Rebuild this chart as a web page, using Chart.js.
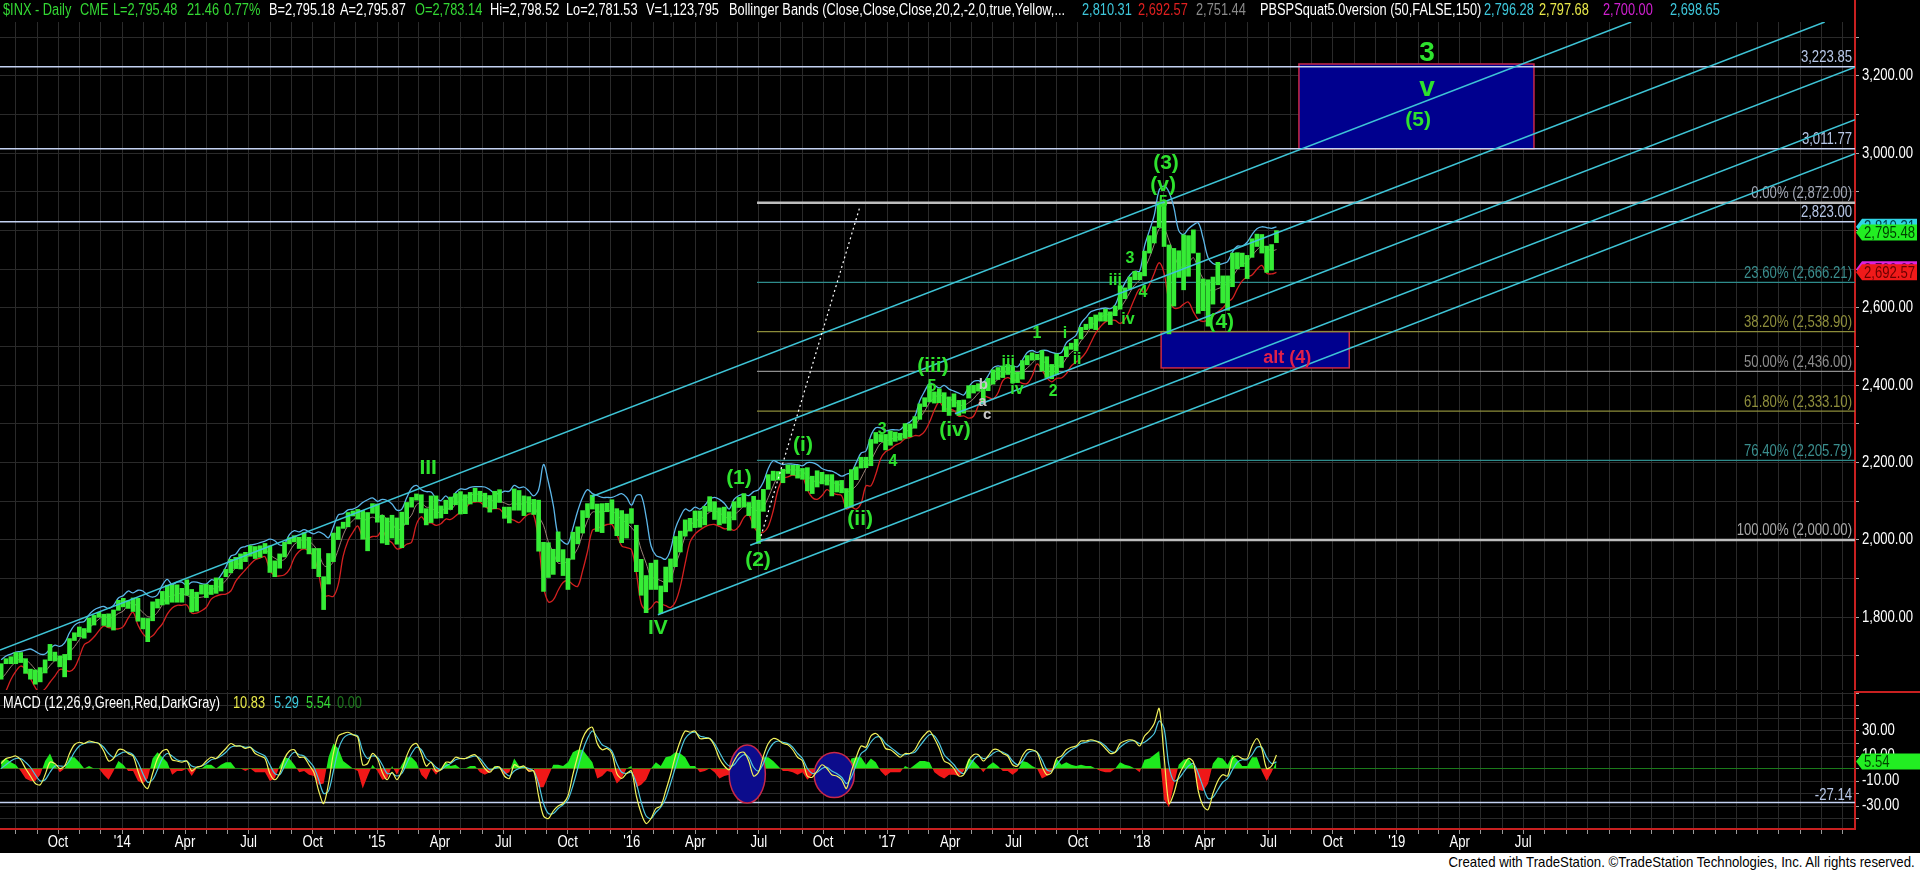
<!DOCTYPE html>
<html>
<head>
<meta charset="utf-8">
<script src="https://cdn.jsdelivr.net/npm/chart.js@4.4.1/dist/chart.umd.min.js"></script>
<style>
html, body { margin: 0; padding: 0; background: #000; width: 1920px; height: 870px; overflow: hidden; }
canvas { position: absolute; left: 0; }
#price { top: 0; }
#macd { top: 690px; }
.row { position: absolute; left: 0; width: 1850px; height: 18px; z-index: 2; }
#hdr { top: 1px; }
#mhdr { top: 694px; }
.row span { position: absolute; top: 0; white-space: pre; font: 16px 'Liberation Sans', Arial, sans-serif; line-height: 18px;
            color: #fff; transform: scaleX(0.8); transform-origin: 0 0; }
#foot { position: absolute; left: 0; top: 853px; width: 1920px; height: 17px; background: #fff; }
#foot span { position: absolute; right: 5px; top: 0; white-space: pre; color: #000; font: 15px 'Liberation Sans', Arial, sans-serif; line-height: 17px;
             transform: scaleX(0.88); transform-origin: 100% 0; }
.row .g { color: #34d834; } .row .c { color: #3ec8dc; } .row .r { color: #e02020; } .row .gy { color: #8a8a8a; }
.row .y { color: #e8e84a; } .row .m { color: #d020d0; } .row .dg { color: #1e7a1e; }
</style>
</head>
<body>
<canvas id="price" width="1920" height="690"></canvas>
<canvas id="macd" width="1920" height="163"></canvas>
<div id="hdr" class="row">
  <span class="g" style="left:3px">$INX - Daily</span>
  <span class="g" style="left:80px">CME</span>
  <span class="g" style="left:113px">L=2,795.48</span>
  <span class="g" style="left:187px">21.46</span>
  <span class="g" style="left:224px">0.77%</span>
  <span style="left:269px">B=2,795.18</span>
  <span style="left:340px">A=2,795.87</span>
  <span class="g" style="left:415px">O=2,783.14</span>
  <span style="left:490px">Hi=2,798.52</span>
  <span style="left:566px">Lo=2,781.53</span>
  <span style="left:646px">V=1,123,795</span>
  <span style="left:729px">Bollinger Bands (Close,Close,Close,20,2,-2,0,true,Yellow,...</span>
  <span class="c" style="left:1082px">2,810.31</span>
  <span class="r" style="left:1138px">2,692.57</span>
  <span class="gy" style="left:1196px">2,751.44</span>
  <span style="left:1260px">PBSPSquat5.0version (50,FALSE,150)</span>
  <span class="c" style="left:1484px">2,796.28</span>
  <span class="y" style="left:1539px">2,797.68</span>
  <span class="m" style="left:1603px">2,700.00</span>
  <span class="c" style="left:1670px">2,698.65</span>
</div>
<div id="mhdr" class="row">
  <span style="left:3px">MACD (12,26,9,Green,Red,DarkGray)</span>
  <span class="y" style="left:233px">10.83</span>
  <span class="c" style="left:274px">5.29</span>
  <span class="g" style="left:306px">5.54</span>
  <span class="dg" style="left:337px">0.00</span>
</div>
<div id="foot"><span>Created with TradeStation. ©TradeStation Technologies, Inc. All rights reserved.</span></div>
<script>
// 주간 데이터 (2013-07-08 주 ~ 2018-07-09 주)
const weekLow = [
  1640,1680,1680,1680,1683,1655,1640,1627,1633,1656,1688,1687,1672,1646,1690,1740,1750,1746,1761,1780,1800,1779,1775,1767,1818,1827,
  1823,1815,1790,1770,1737,1791,1824,1832,1834,1839,1839,1839,1857,1814,1816,1860,1851,1859,1862,1868,1905,1915,1926,1925,1944,1958,1952,1955,1965,1916,1905,1927,1956,1990,1995,1978,1978,1964,1926,1905,1820,1886,1944,2001,2030,2034,2062,2054,2002,1972,2069,2046,
  1992,1988,2005,1989,1980,2040,2085,2103,2070,2039,2045,2056,2057,2068,2079,2091,2067,2068,2093,2099,2099,2085,2072,2081,2097,2056,2044,2077,2077,2063,2072,2066,1971,1867,1903,1911,1944,1908,1872,1950,1990,2018,2058,2080,2022,2019,2073,2042,2011,1993,2005,2043,
  1918,1857,1812,1872,1872,1810,1866,1891,1931,1969,2010,2023,2032,2033,2039,2074,2053,2039,2043,2025,2052,2084,2085,2063,2031,1991,2074,2131,2154,2155,2148,2172,2168,2160,2157,2127,2120,2137,2145,2142,2114,2124,2122,2084,2085,2156,2186,2187,2192,2250,2254,2233,
  2245,2255,2258,2263,2267,2289,2312,2345,2357,2354,2355,2332,2322,2344,2322,2328,2367,2380,2385,2353,2386,2403,2415,2420,2428,2406,2407,2416,2453,2465,2466,2437,2420,2417,2428,2446,2474,2493,2489,2520,2544,2547,2544,2566,2566,2557,2580,2597,2624,2650,2673,2673,
  2683,2742,2768,2808,2759,2533,2605,2679,2647,2682,2742,2586,2593,2553,2610,2660,2613,2594,2655,2701,2707,2676,2731,2759,2742,2692,2698,2769
];
const weekHigh = [
  1680,1693,1698,1709,1709,1693,1666,1664,1670,1690,1730,1710,1700,1704,1745,1760,1775,1771,1798,1805,1813,1808,1809,1819,1844,1849,
  1843,1850,1849,1798,1797,1840,1847,1867,1883,1883,1884,1875,1897,1872,1865,1884,1885,1883,1902,1901,1924,1950,1955,1964,1968,1985,1983,1985,1991,1985,1946,1964,1994,2006,2011,2007,2019,2007,1978,1978,1905,1965,2018,2034,2046,2071,2075,2079,2076,2071,2094,2093,
  2064,2057,2064,2057,2072,2097,2110,2119,2117,2081,2114,2114,2088,2103,2111,2120,2125,2117,2123,2134,2126,2121,2115,2126,2130,2085,2085,2132,2128,2114,2112,2105,2103,1994,1993,1976,2021,1975,1952,2020,2034,2076,2094,2116,2093,2094,2095,2104,2081,2076,2067,2081,
  2038,1950,1908,1940,1948,1881,1930,1951,2009,2023,2052,2056,2075,2075,2087,2112,2099,2083,2085,2073,2099,2110,2120,2097,2113,2103,2131,2169,2178,2177,2183,2194,2193,2193,2185,2187,2165,2179,2175,2169,2169,2153,2154,2133,2182,2189,2214,2214,2260,2278,2273,2273,
  2282,2279,2276,2301,2300,2319,2352,2368,2401,2383,2391,2381,2370,2378,2361,2362,2399,2400,2404,2405,2418,2440,2446,2450,2454,2450,2434,2464,2477,2484,2480,2490,2474,2454,2481,2475,2500,2509,2519,2550,2558,2576,2582,2588,2597,2590,2605,2658,2652,2680,2695,2692,
  2747,2787,2810,2873,2870,2763,2754,2748,2789,2787,2802,2742,2675,2673,2680,2718,2683,2683,2742,2743,2742,2736,2779,2791,2790,2760,2764,2800
];
// 볼린저 밴드
const bbUpper = [
  1690,1700,1705,1710,1712,1715,1718,1712,1705,1705,1718,1728,1725,1734,1760,1779,1787,1789,1807,1819,1825,1828,1823,1831,1850,1856,
  1868,1863,1870,1868,1857,1852,1858,1883,1898,1884,1891,1891,1882,1891,1891,1887,1886,1897,1895,1909,1930,1958,1963,1979,1983,1987,1989,1993,1997,2002,1998,1987,1990,2014,2024,2021,2027,2021,2016,2021,2015,2006,2034,2065,2068,2078,2080,2086,2097,2104,2109,2100,
  2105,2102,2093,2077,2080,2109,2134,2141,2130,2125,2124,2108,2102,2114,2103,2122,2132,2131,2136,2138,2138,2137,2130,2121,2120,2126,2126,2141,2135,2137,2127,2114,2130,2195,2150,2090,2010,1995,1990,2030,2075,2110,2130,2120,2115,2110,2110,2110,2115,2120,2110,2090,
  2115,2115,2060,1985,1960,1955,1950,1975,2030,2060,2080,2075,2085,2080,2090,2105,2110,2105,2095,2080,2105,2115,2118,2115,2125,2130,2150,2185,2205,2200,2195,2197,2196,2195,2192,2200,2200,2195,2185,2180,2178,2172,2165,2170,2175,2200,2225,2230,2270,2290,2290,2282,
  2285,2285,2285,2298,2305,2320,2360,2385,2405,2400,2393,2400,2390,2385,2380,2375,2395,2410,2412,2408,2425,2445,2450,2448,2450,2450,2448,2465,2485,2490,2485,2490,2490,2485,2482,2485,2510,2520,2530,2560,2575,2590,2595,2598,2600,2598,2608,2640,2665,2685,2695,2695,
  2760,2800,2840,2905,2915,2900,2860,2800,2790,2805,2815,2820,2780,2730,2715,2712,2715,2720,2745,2760,2760,2770,2790,2805,2810,2808,2806,2810
];
const bbMid = [
  1640,1655,1672,1685,1693,1690,1680,1665,1655,1660,1675,1688,1695,1699,1710,1724,1742,1759,1772,1784,1795,1803,1798,1801,1810,1816,
  1833,1838,1825,1813,1802,1802,1813,1833,1853,1854,1861,1861,1857,1851,1851,1852,1856,1872,1875,1884,1895,1913,1928,1944,1953,1962,1969,1973,1977,1962,1953,1947,1950,1969,1989,1996,2002,1996,1986,1966,1935,1931,1944,1975,2013,2038,2050,2061,2052,2054,2059,2055,
  2065,2052,2043,2027,2030,2049,2064,2091,2095,2085,2084,2073,2072,2084,2078,2092,2102,2106,2116,2118,2118,2112,2105,2101,2100,2096,2091,2096,2090,2097,2097,2089,2062,2038,1995,1968,1940,1942,1943,1958,1978,2015,2050,2072,2072,2073,2075,2075,2065,2052,2045,2032,
  2015,1975,1940,1905,1900,1895,1890,1900,1935,1970,2010,2035,2050,2053,2062,2072,2075,2070,2062,2055,2065,2075,2088,2090,2080,2075,2085,2110,2140,2165,2177,2180,2182,2180,2178,2165,2155,2150,2150,2155,2150,2145,2140,2125,2130,2140,2160,2185,2205,2230,2250,2255,
  2260,2265,2268,2280,2285,2295,2315,2333,2355,2368,2375,2370,2364,2360,2350,2348,2355,2365,2380,2390,2397,2405,2415,2430,2435,2432,2430,2435,2445,2457,2470,2465,2455,2447,2450,2452,2470,2485,2495,2515,2530,2550,2565,2575,2582,2583,2588,2600,2618,2640,2660,2672,
  2700,2730,2765,2805,2805,2775,2740,2710,2705,2715,2730,2700,2675,2650,2645,2650,2655,2665,2680,2700,2712,2720,2735,2750,2760,2755,2748,2751
];
const bbLower = [
  1590,1610,1639,1660,1674,1665,1642,1618,1605,1615,1632,1648,1665,1664,1660,1669,1697,1729,1737,1749,1765,1778,1773,1771,1770,1776,
  1798,1813,1780,1758,1747,1752,1768,1783,1808,1824,1831,1831,1832,1811,1811,1817,1826,1847,1855,1859,1860,1868,1893,1909,1923,1937,1949,1953,1957,1922,1908,1907,1910,1924,1954,1971,1977,1971,1956,1911,1855,1856,1854,1885,1958,1998,2020,2036,2007,2004,2009,2010,
  2025,2002,1993,1977,1980,1989,1994,2041,2060,2045,2044,2038,2042,2054,2053,2062,2072,2081,2096,2098,2098,2087,2080,2081,2080,2066,2056,2051,2045,2057,2067,2064,1995,1880,1840,1845,1870,1890,1895,1885,1880,1920,1970,2025,2030,2035,2040,2040,2015,1985,1980,1975,
  1915,1835,1820,1825,1840,1835,1830,1825,1840,1880,1940,1995,2015,2026,2034,2039,2040,2035,2029,2030,2025,2035,2058,2065,2035,2020,2020,2035,2075,2130,2159,2163,2168,2165,2164,2130,2110,2105,2115,2130,2122,2118,2115,2080,2085,2080,2095,2140,2140,2170,2210,2228,
  2235,2245,2251,2262,2265,2270,2270,2281,2305,2336,2357,2340,2338,2335,2320,2321,2315,2320,2348,2372,2369,2365,2380,2412,2420,2414,2412,2405,2405,2424,2455,2440,2420,2409,2418,2419,2430,2450,2460,2470,2485,2510,2535,2552,2564,2568,2568,2560,2571,2595,2625,2649,
  2640,2660,2690,2717,2690,2620,2600,2600,2610,2615,2590,2570,2565,2570,2580,2590,2600,2615,2625,2650,2670,2680,2685,2700,2710,2690,2688,2692
];
// MACD (12,26,9)
const macdLine = [
  4,8,9,10,7,0,-6,-12,-13,-5,5,4,0,2,12,19,21,20,22,21,20,14,6,8,15,15,
  12,10,-2,-12,-16,-4,8,14,15,7,6,5,6,-2,1,2,6,9,8,12,16,20,18,18,16,17,12,10,8,-4,-9,-4,8,14,15,9,9,3,-3,-18,-28,-12,12,26,28,29,27,25,3,4,12,8,
  -3,-9,-3,-9,-2,10,18,20,12,2,5,-2,-1,5,5,9,8,8,10,11,6,0,-3,1,1,-6,-8,3,1,2,-2,-2,-22,-38,-40,-34,-30,-28,-22,-5,10,24,31,33,20,15,16,12,-4,-8,-4,-2,
  -22,-36,-44,-40,-32,-30,-18,-5,10,22,30,29,30,24,24,24,18,8,2,-1,6,12,13,6,-6,-3,10,20,24,23,20,19,15,9,6,-6,-7,-2,3,0,-5,-6,-9,-16,-2,9,18,17,26,28,24,16,
  15,12,9,12,12,15,22,27,30,24,16,6,4,0,-6,-5,6,11,11,6,10,15,15,12,10,3,2,10,15,15,13,2,-5,-3,8,10,15,17,18,22,22,23,22,20,16,12,13,20,22,23,22,18,
  26,30,36,48,10,-28,-20,-6,2,8,5,-18,-30,-33,-20,-10,-5,-6,8,10,8,8,18,24,16,0,2,10.83
];
const macdSignal = [
  0,3,6,8,8,5,1,-5,-10,-9,-3,2,2,2,6,13,18,20,21,21,20,17,12,9,11,13,
  13,11,5,-4,-11,-9,-1,8,12,10,7,6,6,2,1,2,4,7,8,10,13,17,18,18,17,17,14,12,10,3,-4,-5,2,9,13,11,10,6,1,-9,-20,-18,-2,15,24,27,27,26,14,8,10,9,
  3,-4,-4,-6,-4,4,12,17,15,8,5,1,-1,2,4,7,8,8,9,10,8,3,-1,0,1,-3,-6,-2,0,1,0,-2,-12,-28,-36,-36,-32,-29,-25,-14,0,14,24,30,25,19,17,14,4,-3,-4,-3,
  -12,-27,-38,-40,-35,-31,-24,-12,1,14,24,28,29,26,25,24,20,13,6,2,3,8,11,9,1,-2,4,14,20,22,21,20,17,12,8,0,-4,-3,0,1,-2,-4,-7,-12,-7,3,12,15,21,25,25,20,
  17,14,11,11,12,13,18,23,27,26,20,11,7,3,-2,-4,1,7,10,8,9,12,14,13,11,6,3,6,12,14,13,7,-1,-2,3,8,12,15,17,20,21,22,22,21,18,14,13,17,20,22,22,20,
  21,24,28,38,32,2,-10,-8,-3,2,4,-4,-15,-24,-23,-17,-11,-8,-1,5,7,7,11,17,17,9,4,5.29
];
const macdHist = [
  6,8,5,3,-2,-8,-10,-10,-5,6,12,3,-3,0,9,9,5,0,2,0,0,-5,-9,-2,6,3,
  -2,-2,-10,-12,-8,8,13,9,5,-5,-2,-2,0,-6,0,0,3,3,0,3,5,5,0,0,-2,0,-3,-3,-3,-10,-8,2,9,8,3,-3,-2,-5,-6,-13,-12,9,20,16,6,3,0,-2,-16,-6,3,-2,
  -9,-8,2,-5,3,9,9,5,-5,-9,0,-5,0,5,2,3,0,0,2,2,-3,-5,-3,2,0,-5,-3,8,2,2,-3,0,-15,-15,-6,3,3,2,5,13,15,15,10,5,-8,-6,-2,-3,-12,-8,0,2,
  -15,-13,-9,0,5,2,9,10,13,12,9,2,2,-3,-2,0,-3,-8,-6,-5,5,6,3,-5,-10,-2,9,9,6,2,-2,-2,-3,-5,-3,-9,-5,2,5,-2,-5,-3,-3,-6,8,9,9,3,8,5,-2,-6,
  -3,-3,-3,2,0,3,6,6,5,-3,-6,-8,-5,-5,-6,-2,8,6,2,-3,2,5,2,-2,-2,-5,-2,6,5,2,0,-8,-6,-2,8,3,5,3,2,3,2,2,0,-2,-3,-3,0,5,3,2,0,-3,
  7,8,11,14,-25,-31,-13,3,7,8,2,-17,-18,-12,4,9,8,3,11,7,2,2,9,9,-2,-10,-3,5.54
];

// 수평선 (피보나치 등)
const levelValues = [3223.85, 3011.77, 2872.00, 2823.00, 2666.21, 2538.90, 2436.00, 2333.10, 2205.79, 2000.00];
const levelLabels = ['3,223.85', '3,011.77', '0.00% (2,872.00)', '2,823.00', '23.60% (2,666.21)', '38.20% (2,538.90)',
                     '50.00% (2,436.00)', '61.80% (2,333.10)', '76.40% (2,205.79)', '100.00% (2,000.00)'];
const levelFrom = [0, 0, 155.2, 0, 155.2, 155.2, 155.2, 155.2, 155.2, 155.2];

// 채널 라인 (주, 가격)
const chanW0 = [0.27, 121.4, 195.7, 153.8, 134.9];
const chanP0 = [1715.5, 2112.5, 2326.4, 1986.3, 1806.8];
const chanW1 = [334.1, 373.7, 379.9, 379.9, 379.9];
const chanP1 = [3339.6, 3339.6, 3222.5, 3086.7, 2998.8];
const dotW = [156.0, 176.3];
const dotP = [2010, 2864];

// 박스
const boxW0 = [266.1, 237.9], boxW1 = [314.2, 276.4];
const boxP0 = [3011.77, 2445], boxP1 = [3231, 2538.9];

// 파동 라벨
const waveText  = ['3', 'v', '(5)', '(3)', '(v)', '5', '3', 'iii', '4', 'iv', '(4)', '(1)', '(2)', '(i)', '(ii)', '(iii)', '(iv)',
                   '3', '4', '5', 'a', 'b', 'c', 'iii', 'iv', '1', 'i', 'ii', '2', 'III', 'IV'];
const waveWeek  = [292.3, 292.3, 290.5, 238.9, 238.3, 238.3, 231.5, 228.5, 234.2, 231.1, 250.2, 151.5, 155.4, 164.6, 176.3, 191.2, 195.7,
                   180.8, 183.0, 191.0, 201.3, 201.5, 202.3, 206.6, 208.4, 212.5, 218.2, 220.7, 215.8, 87.9, 134.9];
const wavePrice = [3259, 3169, 3086, 2975, 2918, 2872, 2729, 2672, 2641, 2569, 2564, 2160, 1948, 2246, 2054, 2450, 2284,
                   2285, 2202, 2396, 2357, 2401, 2323, 2458, 2388, 2535, 2535, 2466, 2383, 2186, 1772];
const altLabel = 'alt (4)', altWeek = 263.7, altPrice = 2471;

// 오른쪽 가격 태그
const tagValues = [2810.31, 2795.48, 2700.00, 2692.57];
const macdTag = 5.54, macdLevel = -27.14;

// MACD 원
const ellW0 = [149.5, 166.9], ellW1 = [156.9, 175.1];
const ellV0 = [-27.6, -23.2], ellV1 = [18.8, 12.8];

const FONT = "'Liberation Sans', Arial, sans-serif";
const X_MIN = 0.27, X_MAX = 379.9;

// 월 눈금
const MON = ['Jan','Feb','Mar','Apr','May','Jun','Jul','Aug','Sep','Oct','Nov','Dec'];
const T0 = Date.UTC(2013, 6, 8);
const monthTicks = [];
for (let yr = 2013; yr <= 2020; yr++) {
  for (let m = 0; m < 12; m++) {
    const w = (Date.UTC(yr, m, 1) - T0) / 864e5 / 7;
    if (w < X_MIN || w > X_MAX) continue;
    let label = '';
    if (m % 3 === 0 && (yr < 2019 || (yr === 2019 && m <= 6))) label = m === 0 ? "'" + String(yr).slice(2) : MON[m];
    monthTicks.push({ w: w, label: label });
  }
}
const priceGrid = [];
for (let v = 1700; v <= 3300; v += 100) priceGrid.push(v);
const macdGrid = [];
for (let v = -40; v <= 60; v += 10) macdGrid.push(v);

const xs = weekLow.map((v, i) => i + 0.5);
const pts = arr => arr.map((v, i) => ({ x: xs[i], y: v }));
const fmt = v => v.toLocaleString('en-US', { minimumFractionDigits: 2, maximumFractionDigits: 2 });

// 좁은 글꼴 흉내 (가로 축소)
function narrowText(ctx, text, x, y, align, color, size) {
  ctx.save();
  ctx.translate(x, y);
  ctx.scale(0.82, 1);
  ctx.font = (size || 16) + 'px ' + FONT;
  ctx.fillStyle = color;
  ctx.textAlign = align;
  ctx.textBaseline = 'middle';
  ctx.fillText(text, 0, 0);
  ctx.restore();
}

function tag(ctx, x0, yp, w, text, bg, fg) {
  ctx.beginPath();
  ctx.moveTo(x0 + 1, yp);
  ctx.lineTo(x0 + 7, yp - 8);
  ctx.lineTo(x0 + w, yp - 8);
  ctx.lineTo(x0 + w, yp + 8);
  ctx.lineTo(x0 + 7, yp + 8);
  ctx.closePath();
  ctx.fillStyle = bg;
  ctx.fill();
  narrowText(ctx, text, x0 + 9, yp + 1, 'left', fg);
}

const levelColor = ['#c4d2f2', '#c4d2f2', '#bdbdbd', '#c4d2f2', '#2e8c8c', '#8c8c3a', '#8e8e8e', '#8c8c3a', '#2e8c8c', '#bdbdbd'];
const levelWidth = [1.5, 1.5, 2.5, 1.5, 1.2, 1.2, 1.2, 1.2, 1.2, 2.5];
const levelText  = ['#b6c6e6', '#b6c6e6', '#a2a8b6', '#b6c6e6', '#3a8e8e', '#8e8e3c', '#8e8e8e', '#8e8e3c', '#3a8e8e', '#a8a8a8'];
const waveKind = ['xl','xl','l','l','l','s','s','s','s','s','l','l','l','l','l','l','l','s','s','s','g','g','g','s','s','s','s','s','s','l','l'];
const waveFont = { xl: 28, l: 21, s: 16, g: 15 };

const priceDecor = {
  id: 'priceDecor',
  beforeDatasetsDraw(chart) {
    const { ctx, chartArea: a, scales: { x, y } } = chart;
    ctx.save();
    ctx.beginPath();
    ctx.rect(a.left, a.top, a.right - a.left, a.bottom - a.top);
    ctx.clip();
    // 박스
    for (let i = 0; i < boxW0.length; i++) {
      const x0 = x.getPixelForValue(boxW0[i]), x1 = x.getPixelForValue(boxW1[i]);
      const y0 = y.getPixelForValue(boxP1[i]), y1 = y.getPixelForValue(boxP0[i]);
      ctx.fillStyle = '#00008e';
      ctx.fillRect(x0, y0, x1 - x0, y1 - y0);
      ctx.strokeStyle = '#c8284a';
      ctx.lineWidth = 1.5;
      ctx.strokeRect(x0, y0, x1 - x0, y1 - y0);
    }
    // 수평선 + 라벨
    for (let i = 0; i < levelValues.length; i++) {
      const yp = y.getPixelForValue(levelValues[i]);
      const xs0 = levelFrom[i] ? x.getPixelForValue(levelFrom[i]) : a.left;
      ctx.strokeStyle = levelColor[i];
      ctx.lineWidth = levelWidth[i];
      ctx.beginPath();
      ctx.moveTo(xs0, yp);
      ctx.lineTo(a.right, yp);
      ctx.stroke();
      narrowText(ctx, levelLabels[i], a.right - 3, yp - 9, 'right', levelText[i]);
    }
    ctx.restore();
  },
  afterDatasetsDraw(chart) {
    const { ctx, chartArea: a, scales: { x, y } } = chart;
    ctx.save();
    ctx.beginPath();
    ctx.rect(a.left, a.top, a.right - a.left, a.bottom - a.top);
    ctx.clip();
    // 채널
    ctx.strokeStyle = '#3ec4d6';
    ctx.lineWidth = 1.5;
    for (let i = 0; i < chanW0.length; i++) {
      ctx.beginPath();
      ctx.moveTo(x.getPixelForValue(chanW0[i]), y.getPixelForValue(chanP0[i]));
      ctx.lineTo(x.getPixelForValue(chanW1[i]), y.getPixelForValue(chanP1[i]));
      ctx.stroke();
    }
    // 점선
    ctx.strokeStyle = '#ffffff';
    ctx.lineWidth = 1.2;
    ctx.setLineDash([2, 3]);
    ctx.beginPath();
    ctx.moveTo(x.getPixelForValue(dotW[0]), y.getPixelForValue(dotP[0]));
    ctx.lineTo(x.getPixelForValue(dotW[1]), y.getPixelForValue(dotP[1]));
    ctx.stroke();
    ctx.setLineDash([]);
    // 파동 라벨
    ctx.textAlign = 'center';
    ctx.textBaseline = 'middle';
    for (let i = 0; i < waveText.length; i++) {
      const k = waveKind[i];
      ctx.font = 'bold ' + waveFont[k] + 'px ' + FONT;
      ctx.fillStyle = k === 'g' ? '#c8c8c8' : '#2ee22e';
      ctx.fillText(waveText[i], x.getPixelForValue(waveWeek[i]), y.getPixelForValue(wavePrice[i]));
    }
    ctx.font = 'bold 18px ' + FONT;
    ctx.fillStyle = '#e0204a';
    ctx.fillText(altLabel, x.getPixelForValue(altWeek), y.getPixelForValue(altPrice));
    ctx.restore();
  },
  afterDraw(chart) {
    const { ctx, chartArea: a, scales: { y } } = chart;
    ctx.save();
    ctx.strokeStyle = '#c82020';
    ctx.lineWidth = 2;
    ctx.beginPath();
    ctx.moveTo(a.right, 0);
    ctx.lineTo(a.right, a.top);
    ctx.stroke();
    // 축 라벨
    priceGrid.forEach(v => {
      if (v % 200 === 0) narrowText(ctx, fmt(v), a.right + 7, y.getPixelForValue(v), 'left', '#ffffff');
    });
    const bg = ['#30d4e6', '#22ee22', '#dd22dd', '#f01a1a'];
    const fg = ['#00404a', '#004400', '#500050', '#6a0000'];
    for (let i = 0; i < tagValues.length; i++) {
      tag(ctx, a.right, y.getPixelForValue(tagValues[i]), 62, fmt(tagValues[i]), bg[i], fg[i]);
    }
    ctx.restore();
  }
};

const macdDecor = {
  id: 'macdDecor',
  beforeDatasetsDraw(chart) {
    const { ctx, chartArea: a, scales: { y } } = chart;
    ctx.save();
    const y0 = y.getPixelForValue(0);
    ctx.strokeStyle = '#1a7a1a';
    ctx.lineWidth = 1;
    ctx.beginPath(); ctx.moveTo(a.left, y0); ctx.lineTo(a.right, y0); ctx.stroke();
    const yl = y.getPixelForValue(macdLevel);
    ctx.strokeStyle = '#c4d2f2';
    ctx.lineWidth = 1.5;
    ctx.beginPath(); ctx.moveTo(a.left, yl); ctx.lineTo(a.right, yl); ctx.stroke();
    narrowText(ctx, macdLevel.toFixed(2), a.right - 3, yl - 7, 'right', '#b6c6e6');
    ctx.restore();
  },
  afterDatasetDraw(chart, args) {
    if (args.index !== 0) return;
    const { ctx, scales: { x, y } } = chart;
    ctx.save();
    for (let i = 0; i < ellW0.length; i++) {
      const x0 = x.getPixelForValue(ellW0[i]), x1 = x.getPixelForValue(ellW1[i]);
      const y0 = y.getPixelForValue(ellV1[i]), y1 = y.getPixelForValue(ellV0[i]);
      ctx.beginPath();
      ctx.ellipse((x0 + x1) / 2, (y0 + y1) / 2, (x1 - x0) / 2, (y1 - y0) / 2, 0, 0, Math.PI * 2);
      ctx.fillStyle = '#0c0c8c';
      ctx.fill();
      ctx.strokeStyle = '#c8284a';
      ctx.lineWidth = 1.5;
      ctx.stroke();
    }
    ctx.restore();
  },
  afterDraw(chart) {
    const { ctx, chartArea: a, scales: { x, y } } = chart;
    ctx.save();
    ctx.strokeStyle = '#c82020';
    ctx.lineWidth = 2;
    ctx.beginPath(); ctx.moveTo(a.right, a.top); ctx.lineTo(chart.width, a.top); ctx.stroke();
    // 축 라벨
    macdGrid.forEach(v => {
      if (Math.abs(v) === 10 || Math.abs(v) === 30) narrowText(ctx, v.toFixed(2), a.right + 7, y.getPixelForValue(v), 'left', '#ffffff');
    });
    monthTicks.forEach(t => {
      if (t.label) narrowText(ctx, t.label, x.getPixelForValue(t.w), a.bottom + 14, 'center', '#ffffff');
    });
    tag(ctx, a.right, y.getPixelForValue(macdTag), 65, macdTag.toFixed(2), '#22ee22', '#004400');
    ctx.restore();
  }
};

Chart.defaults.font.family = FONT;

new Chart(document.getElementById('price'), {
  type: 'bar',
  data: {
    datasets: [
      { type: 'bar', data: weekLow.map((v, i) => ({ x: xs[i], y: [v, weekHigh[i]] })), backgroundColor: '#36ec36', barThickness: 4, grouped: false, order: 0 },
      { type: 'line', data: pts(bbUpper), borderColor: '#5cb6e8', borderWidth: 1.3, pointRadius: 0, tension: 0.35, order: 1 },
      { type: 'line', data: pts(bbMid), borderColor: '#9a8276', borderWidth: 1, pointRadius: 0, tension: 0.35, order: 2 },
      { type: 'line', data: pts(bbLower), borderColor: '#d42020', borderWidth: 1.3, pointRadius: 0, tension: 0.35, order: 3 }
    ]
  },
  options: {
    responsive: false,
    animation: false,
    devicePixelRatio: 1,
    layout: { padding: { top: 22, left: 0, right: 0, bottom: 0 } },
    plugins: { legend: { display: false }, tooltip: { enabled: false } },
    scales: {
      x: {
        type: 'linear', min: X_MIN, max: X_MAX, offset: false,
        grid: { color: '#2a2a2a', drawTicks: false, offset: false },
        border: { display: false },
        ticks: { display: false },
        afterBuildTicks: s => { s.ticks = monthTicks.map(t => ({ value: t.w })); },
        afterFit: s => { s.height = 0; }
      },
      y: {
        type: 'linear', position: 'right', min: 1612, max: 3339.6,
        grid: { color: '#2a2a2a', tickLength: 4, tickColor: '#aaaaaa' },
        border: { color: '#c82020', width: 2 },
        ticks: { display: false },
        afterBuildTicks: s => { s.ticks = priceGrid.map(v => ({ value: v })); },
        afterFit: s => { s.width = 65; }
      }
    }
  },
  plugins: [priceDecor]
});

new Chart(document.getElementById('macd'), {
  type: 'line',
  data: {
    datasets: [
      { data: pts(macdHist), borderWidth: 0, pointRadius: 0, fill: { target: { value: 0 }, above: '#1eea1e', below: '#f01818' }, order: 3 },
      { data: pts(macdSignal), borderColor: '#4cc6e0', borderWidth: 1.2, pointRadius: 0, tension: 0.3, order: 2 },
      { data: pts(macdLine), borderColor: '#f2f25c', borderWidth: 1.2, pointRadius: 0, tension: 0.3, order: 1 }
    ]
  },
  options: {
    responsive: false,
    animation: false,
    devicePixelRatio: 1,
    layout: { padding: { top: 2, left: 0, right: 0, bottom: 0 } },
    plugins: { legend: { display: false }, tooltip: { enabled: false } },
    scales: {
      x: {
        type: 'linear', min: X_MIN, max: X_MAX,
        grid: { color: '#2a2a2a', tickLength: 5, tickColor: '#999999' },
        border: { color: '#c82020', width: 2 },
        ticks: { display: false },
        afterBuildTicks: s => { s.ticks = monthTicks.map(t => ({ value: t.w })); },
        afterFit: s => { s.height = 24; }
      },
      y: {
        type: 'linear', position: 'right', min: -48.4, max: 61.2,
        grid: { color: '#2a2a2a', tickLength: 4, tickColor: '#aaaaaa' },
        border: { color: '#c82020', width: 2 },
        ticks: { display: false },
        afterBuildTicks: s => { s.ticks = macdGrid.map(v => ({ value: v })); },
        afterFit: s => { s.width = 65; }
      }
    }
  },
  plugins: [macdDecor]
});
</script>
</body>
</html>
